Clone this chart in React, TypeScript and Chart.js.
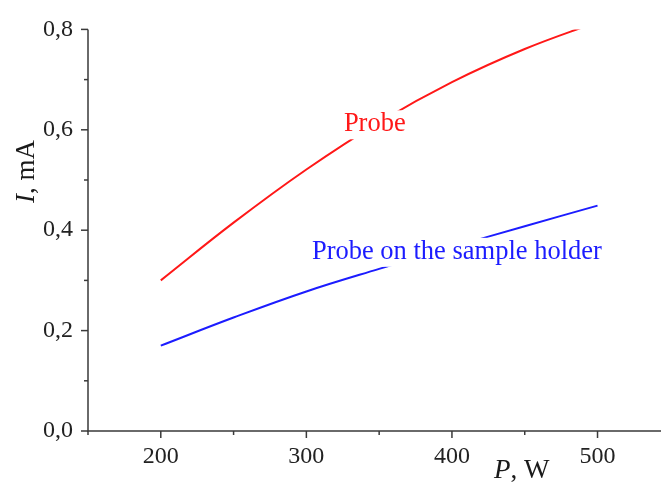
import React, { useEffect, useRef } from "react";
import { Chart, registerables } from "chart.js";

Chart.register(...registerables);

// ---- data ----
const powerW = [200, 250, 300, 350, 400, 450, 500];
const probeI = [0.3, 0.415, 0.521, 0.615, 0.695, 0.761, 0.815];
const holderI = [0.17, 0.226, 0.278, 0.323, 0.366, 0.408, 0.449];
const xTickLabels = [200, 300, 400, 500];
const yTickLabels = [0, 0.2, 0.4, 0.6, 0.8];
const xMinorTicks = [150, 200, 250, 300, 350, 400, 450, 500];
const yMinorTicks = [0, 0.1, 0.2, 0.3, 0.4, 0.5, 0.6, 0.7, 0.8];
const seriesNames = ["Probe", "Probe on the sample holder"];
const seriesColors = ["rgb(255,24,24)", "rgb(28,28,255)"];
// label anchor points in data units (centre x, baseline y)
const labelAnchorX = [347, 403.4];
const labelAnchorY = [0.597, 0.343];

const SERIF = "'Liberation Serif', 'Times New Roman', serif";
const AXIS_COLOR = "#3a3a3a";

const decorPlugin = {
  id: "decor",
  afterDatasetsDraw(chart: any) {
    const ctx = chart.ctx as CanvasRenderingContext2D;
    const xs = chart.scales.x;
    const ys = chart.scales.y;
    ctx.save();
    ctx.font = `26.5px ${SERIF}`;
    ctx.textAlign = "center";
    ctx.textBaseline = "alphabetic";
    seriesNames.forEach((name, i) => {
      const cx = xs.getPixelForValue(labelAnchorX[i]);
      const by = ys.getPixelForValue(labelAnchorY[i]);
      const w = ctx.measureText(name).width;
      ctx.fillStyle = "#ffffff";
      ctx.fillRect(cx - w / 2, by - 21, w, 29);
      ctx.fillStyle = seriesColors[i];
      ctx.fillText(name, cx, by);
    });
    ctx.restore();
  },
  afterDraw(chart: any) {
    const ctx = chart.ctx as CanvasRenderingContext2D;
    const xs = chart.scales.x;
    const ys = chart.scales.y;
    const area = chart.chartArea;
    ctx.save();
    ctx.strokeStyle = AXIS_COLOR;
    ctx.lineWidth = 1.5;
    ctx.beginPath();
    ctx.moveTo(area.left, area.top);
    ctx.lineTo(area.left, area.bottom);
    ctx.lineTo(area.right, area.bottom);
    ctx.stroke();
    xMinorTicks.forEach((v) => {
      const px = xs.getPixelForValue(v);
      const len = v % 100 === 0 ? 7 : 4;
      ctx.beginPath();
      ctx.moveTo(px, area.bottom);
      ctx.lineTo(px, area.bottom + len);
      ctx.stroke();
    });
    yMinorTicks.forEach((v, i) => {
      const py = ys.getPixelForValue(v);
      const len = i % 2 === 0 ? 7 : 4;
      ctx.beginPath();
      ctx.moveTo(area.left, py);
      ctx.lineTo(area.left - len, py);
      ctx.stroke();
    });
    ctx.fillStyle = "#1a1a1a";
    ctx.textBaseline = "alphabetic";
    ctx.textAlign = "left";
    const italic = `italic 27px ${SERIF}`;
    const regular = `27px ${SERIF}`;
    ctx.font = italic;
    const wP = ctx.measureText("P").width;
    ctx.fillText("P", 494, 478);
    ctx.font = regular;
    ctx.fillText(", W", 494 + wP, 478);
    ctx.save();
    ctx.translate(34, 171.5);
    ctx.rotate(-Math.PI / 2);
    ctx.font = italic;
    const wI = ctx.measureText("I").width;
    ctx.font = regular;
    const wRest = ctx.measureText(", mA").width;
    const start = -(wI + wRest) / 2;
    ctx.font = italic;
    ctx.fillText("I", start, 0);
    ctx.font = regular;
    ctx.fillText(", mA", start + wI, 0);
    ctx.restore();
    ctx.restore();
  },
};

export default function App() {
  const ref = useRef<HTMLCanvasElement | null>(null);
  useEffect(() => {
    if (!ref.current) return;
    const chart = new Chart(ref.current, {
      type: "line",
      data: {
        datasets: [
          {
            label: seriesNames[0],
            data: powerW.map((x, i) => ({ x, y: probeI[i] })),
            borderColor: seriesColors[0],
            borderWidth: 2,
            pointRadius: 0,
            tension: 0.4,
            clip: 0,
          },
          {
            label: seriesNames[1],
            data: powerW.map((x, i) => ({ x, y: holderI[i] })),
            borderColor: seriesColors[1],
            borderWidth: 2,
            pointRadius: 0,
            tension: 0.4,
            clip: 0,
          },
        ],
      },
      plugins: [decorPlugin],
      options: {
        animation: false,
        responsive: true,
        maintainAspectRatio: false,
        layout: { padding: { top: 25, left: 0, right: 0, bottom: 0 } },
        plugins: { legend: { display: false }, tooltip: { enabled: false } },
        scales: {
          x: {
            type: "linear",
            min: 150,
            max: 543.6,
            grid: { display: false, drawTicks: false },
            border: { display: false },
            afterBuildTicks: (s: any) => {
              s.ticks = xTickLabels.map((value) => ({ value }));
            },
            afterFit: (s: any) => {
              s.height = 52;
            },
            ticks: {
              padding: 11,
              maxRotation: 0,
              autoSkip: false,
              color: "#222",
              font: { family: SERIF, size: 24 },
              callback: (v: any) => String(v),
            },
          },
          y: {
            type: "linear",
            min: 0,
            max: 0.8,
            grid: { display: false, drawTicks: false },
            border: { display: false },
            afterBuildTicks: (s: any) => {
              s.ticks = yTickLabels.map((value) => ({ value }));
            },
            afterFit: (s: any) => {
              s.width = 88;
            },
            ticks: {
              padding: 15,
              color: "#222",
              font: { family: SERIF, size: 24 },
              callback: (v: any) => Number(v).toFixed(1).replace(".", ","),
            },
          },
        },
      },
    });
    return () => chart.destroy();
  }, []);
  return (
    <div style={{ position: "absolute", left: 0, top: 0, width: 661, height: 483, background: "#fff" }}>
      <canvas ref={ref} />
    </div>
  );
}
